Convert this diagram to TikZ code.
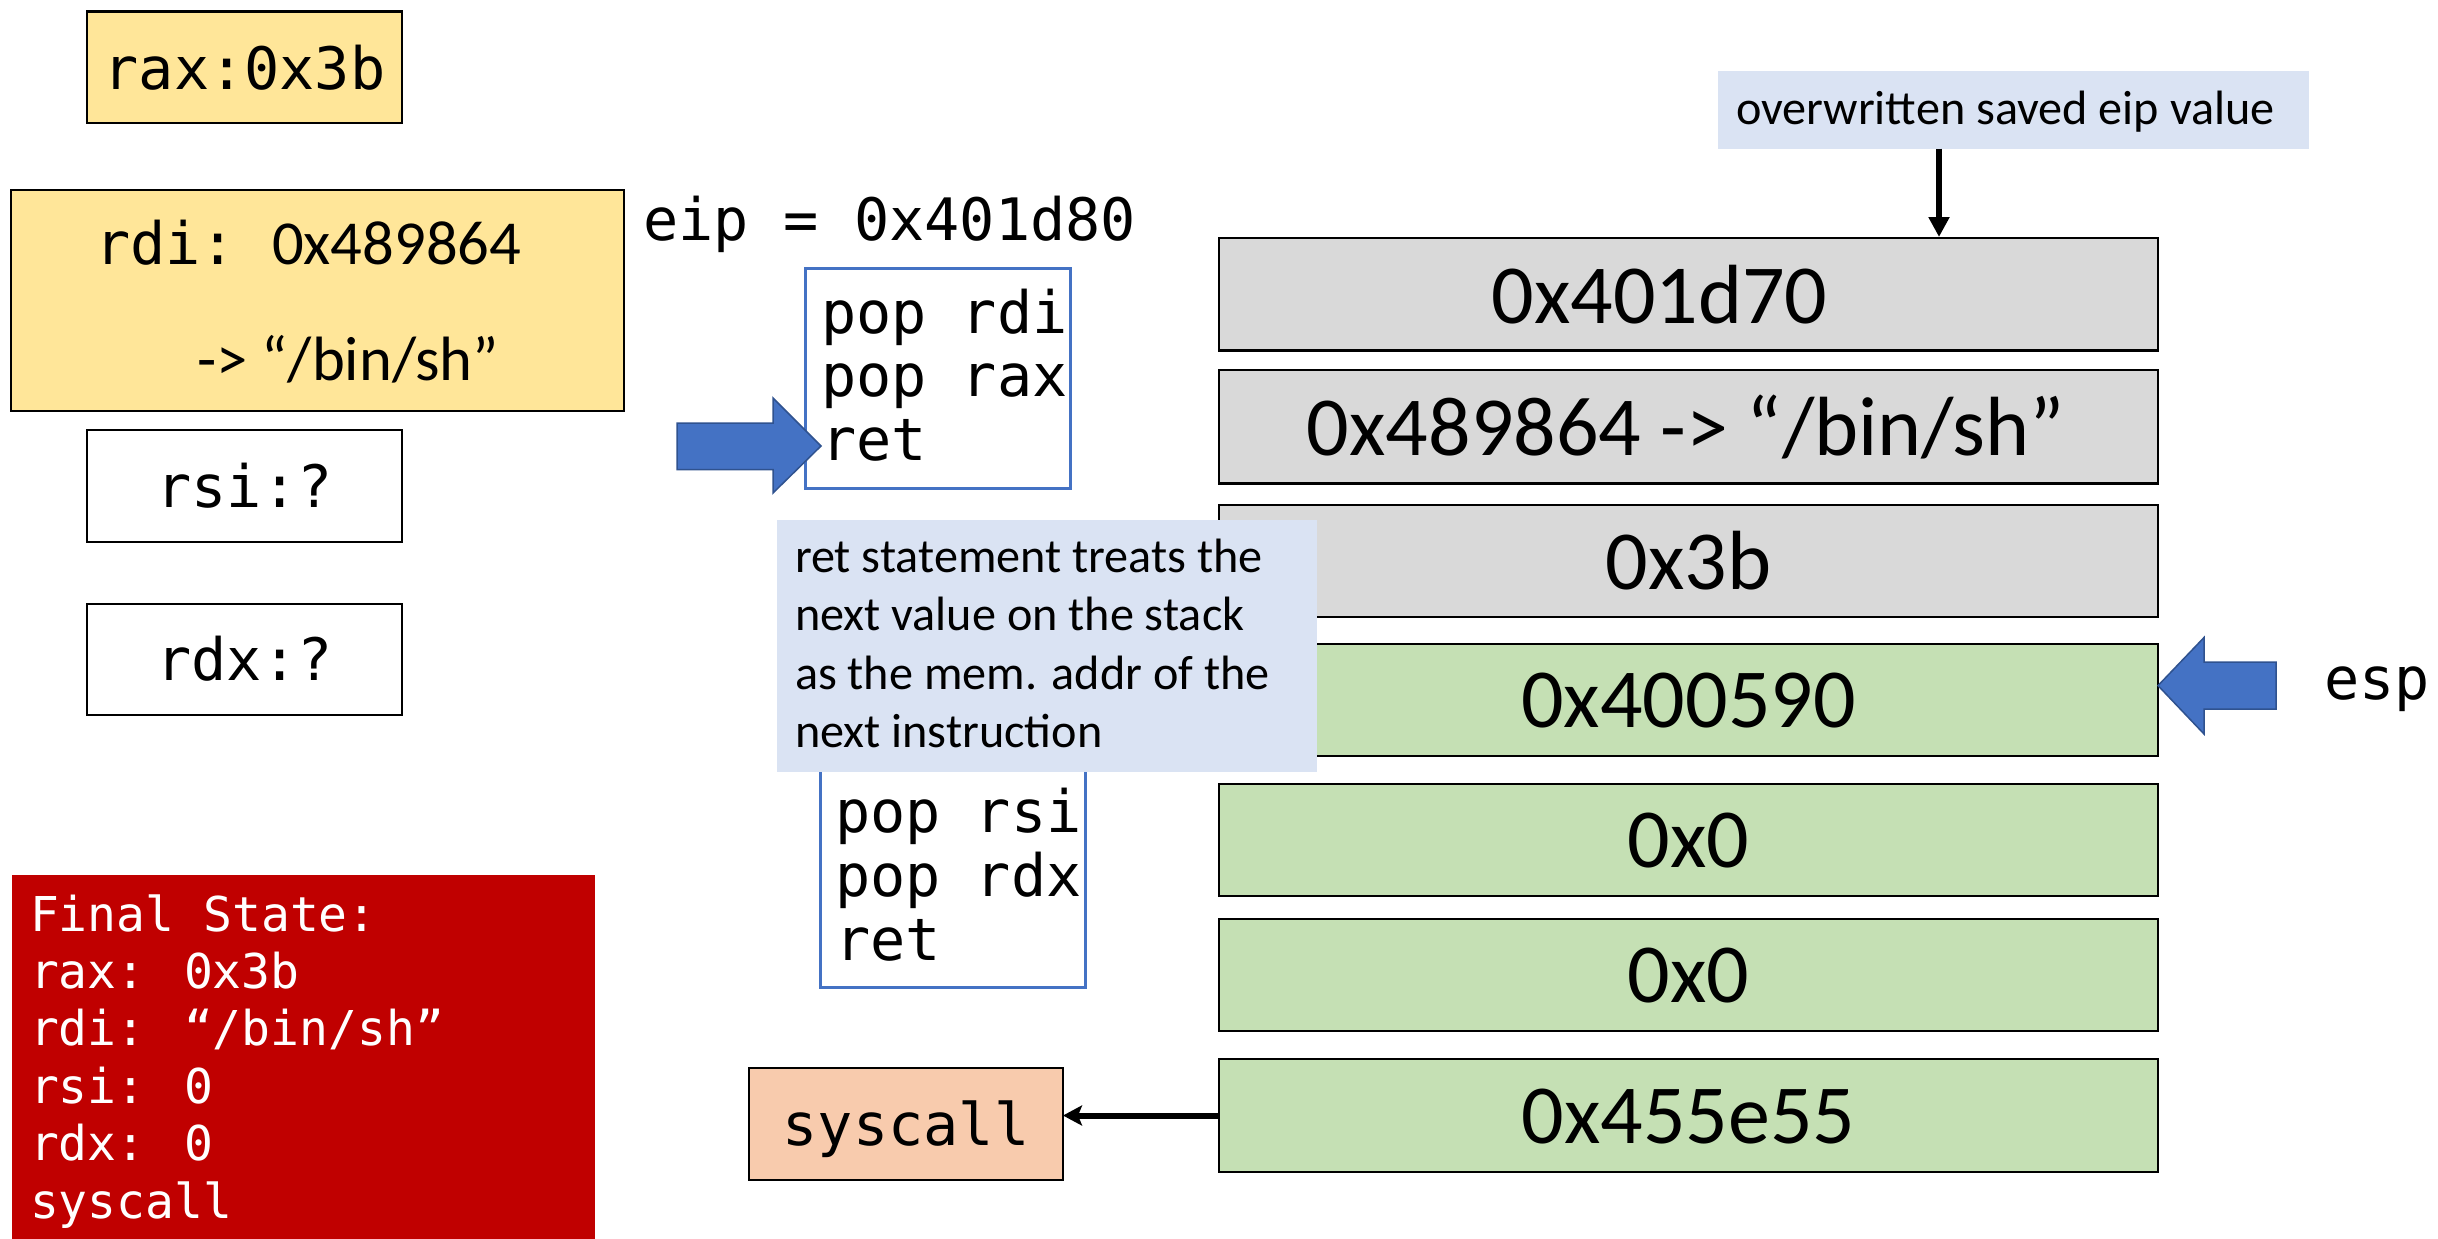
\documentclass[tikz,border=0pt]{standalone}
\usepackage{fontspec}
\setmainfont{Carlito}
\newfontfamily\codefont{DejaVu Sans Mono}
\newfontfamily\notefont{Carlito}
\usetikzlibrary{arrows.meta}

\definecolor{regyellow}{HTML}{FFE699}
\definecolor{stackgray}{HTML}{D9D9D9}
\definecolor{stackgreen}{HTML}{C5E0B4}
\definecolor{notebg}{HTML}{DAE3F3}
\definecolor{finalred}{HTML}{C00000}
\definecolor{syspeach}{HTML}{F8CBAD}
\definecolor{gadgetblue}{HTML}{4472C4}
\definecolor{arrowedge}{HTML}{2F528F}

\begin{document}
\begin{tikzpicture}[x=1pt,y=-1pt,
  regbox/.style={draw=black, line width=2.5pt, rectangle, inner sep=0pt, outer sep=0pt},
  slot/.style={regbox, minimum width=939pt},
  gadget/.style={draw=gadgetblue, line width=3pt, fill=white, rectangle, inner sep=0pt, outer sep=0pt, minimum width=265pt, minimum height=220pt},
  note/.style={fill=notebg, rectangle, inner sep=0pt, outer sep=0pt},
  codetxt/.style={inner sep=0pt, outer sep=0pt, font=\codefont\fontsize{58.5}{70}\selectfont},
  smallcode/.style={inner sep=0pt, outer sep=0pt, text=white, anchor=base west, font=\codefont\fontsize{48}{57}\selectfont},
  slottxt/.style={inner sep=0pt, outer sep=0pt, anchor=base, font=\notefont\fontsize{84}{100}\selectfont},
  notetxt/.style={inner sep=0pt, outer sep=0pt, anchor=base west, font=\notefont\fontsize{48.2}{58}\selectfont},
  blockarrow/.style={fill=gadgetblue, draw=arrowedge, line width=1.5pt, line join=miter},
  pointer/.style={draw=black, line width=6pt, -{Triangle[length=20pt,width=20pt]}}
]
\useasboundingbox (0,0) rectangle (2438,1239);

% register boxes
\node[regbox, fill=regyellow, minimum width=315pt, minimum height=111.6pt] (rax) at (244.5,67.2) {};
\node[codetxt, anchor=base] (raxtxt) at (244.5,89) {rax:0x3b};

\node[regbox, fill=regyellow, minimum width=613pt, minimum height=221pt] (rdi) at (317.5,300.5) {};
\node[inner sep=0pt, anchor=base west] (rditxt) at (95,264.5)
  {{\codefont\fontsize{58.5}{70}\selectfont rdi:}\hspace{36pt}{\notefont\fontsize{62.6}{75}\selectfont 0x489864}};
\node[inner sep=0pt, anchor=base west, font=\notefont\fontsize{62.6}{75}\selectfont] (rdistr) at (197,380) {-> “/bin/sh”};

\node[regbox, fill=white, minimum width=315pt, minimum height=112pt] (rsi) at (244.5,486) {};
\node[codetxt, anchor=base] (rsitxt) at (244.5,507) {rsi:?};

\node[regbox, fill=white, minimum width=315pt, minimum height=111pt] (rdx) at (244.5,659.5) {};
\node[codetxt, anchor=base] (rdxtxt) at (244.5,680.5) {rdx:?};

% instruction pointer
\node[codetxt, anchor=base west] (eip) at (643,240) {eip = 0x401d80};

% stack slots
\node[slot, fill=stackgray, minimum height=112.5pt] (s1) at (1688.5,294.25) {};
\node[slot, fill=stackgray, minimum height=113.5pt] (s2) at (1688.5,426.75) {};
\node[slot, fill=stackgray, minimum height=112pt] (s3) at (1688.5,561) {};
\node[slot, fill=stackgreen, minimum height=112pt] (s4) at (1688.5,700) {};
\node[slot, fill=stackgreen, minimum height=112pt] (s5) at (1688.5,840) {};
\node[slot, fill=stackgreen, minimum height=112pt] (s6) at (1688.5,975) {};
\node[slot, fill=stackgreen, minimum height=113pt] (s7) at (1688.5,1115.5) {};

\node[slottxt] (s1txt) at (1659.5,323) {0x401d70};
\node[slottxt] (s2txt) at (1686,455) {0x489864 -> “/bin/sh”};
\node[slottxt] (s3txt) at (1688.5,589) {0x3b};
\node[slottxt] (s4txt) at (1688.5,727) {0x400590};
\node[slottxt] (s5txt) at (1688.5,867) {0x0};
\node[slottxt] (s6txt) at (1688.5,1002) {0x0};
\node[slottxt] (s7txt) at (1688.5,1143) {0x455e55};

% gadgets
\node[gadget] (g1) at (937.5,378.25) {};
\node[codetxt, anchor=base west] (g1a) at (821,333) {pop rdi};
\node[codetxt, anchor=base west] (g1b) at (821,396.5) {pop rax};
\node[codetxt, anchor=base west] (g1c) at (821,460) {ret};

\node[gadget] (g2) at (952.5,877) {};
\node[codetxt, anchor=base west] (g2a) at (835,832) {pop rsi};
\node[codetxt, anchor=base west] (g2b) at (835,896) {pop rdx};
\node[codetxt, anchor=base west] (g2c) at (835,960) {ret};

% explanation of ret
\node[note, minimum width=540pt, minimum height=252pt] (retnote) at (1047,646) {};
\node[notetxt] (rn1) at (795,572) {ret statement treats the};
\node[notetxt] (rn2) at (795,630.5) {next value on the stack};
\node[notetxt] (rn3) at (795,689) {as the mem. addr of the};
\node[notetxt] (rn4) at (795,747.5) {next instruction};

% saved eip annotation
\node[note, minimum width=591pt, minimum height=77.5pt] (ovr) at (2013.5,109.75) {};
\node[notetxt] (ovrtxt) at (1736,124) {overwritten saved eip value};
\coordinate (eiptarget) at (1939,237);
\draw[pointer] (ovr.south -| eiptarget) -- (eiptarget);

% current instruction arrow
\filldraw[blockarrow] (677,423) -- (773,423) -- (773,398) -- (821,446) -- (773,493) -- (773,469.5) -- (677,469.5) -- cycle;

% stack pointer arrow
\filldraw[blockarrow] (2276,662) -- (2204,662) -- (2204,637.5) -- (2158,685.6) -- (2204,734) -- (2204,709) -- (2276,709) -- cycle;
\node[codetxt, anchor=base west] (esp) at (2324,699) {esp};

% syscall target
\node[regbox, fill=syspeach, minimum width=314pt, minimum height=112pt] (sys) at (906,1124) {};
\node[codetxt, anchor=base] (systxt) at (906,1145) {syscall};
\draw[draw=black, line width=6pt, -{Stealth[length=19pt,width=20pt,inset=4pt]}] (s7.west) -- (s7.west -| sys.east);

% final register state
\node[fill=finalred, rectangle, inner sep=0pt, minimum width=583pt, minimum height=372pt] (final) at (303.5,1061) {};
\node[smallcode] (f1) at (30,931) {Final State:};
\node[smallcode] (f2) at (30,988.4) {rax: 0x3b};
\node[smallcode] (f3) at (30,1045.8) {rdi: “/bin/sh”};
\node[smallcode] (f4) at (30,1103.2) {rsi: 0};
\node[smallcode] (f5) at (30,1160.6) {rdx: 0};
\node[smallcode] (f6) at (30,1218) {syscall};
\end{tikzpicture}
\end{document}
